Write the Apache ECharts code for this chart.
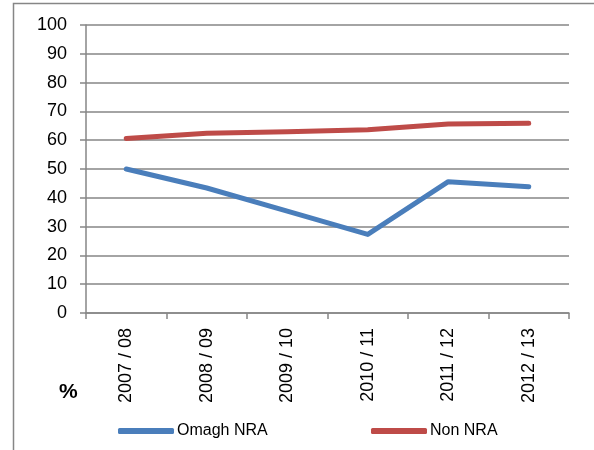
<!DOCTYPE html>
<html>
<head>
<meta charset="utf-8">
<script src="https://cdn.jsdelivr.net/npm/echarts@6/dist/echarts.min.js"></script>
<style>
html,body{margin:0;padding:0;background:#fff;}
#chart{width:594px;height:450px;}
</style>
</head>
<body>
<div id="chart"></div>
<script>
// years on the x axis
var years = ['2007 / 08', '2008 / 09', '2009 / 10', '2010 / 11', '2011 / 12', '2012 / 13'];
var omaghNRA = [50.0, 43.4, 35.4, 27.3, 45.6, 43.8];
var nonNRA = [60.6, 62.4, 62.9, 63.6, 65.6, 65.9];
var yTicks = [0, 100, 10];

var grey = '#868686';
var font = 'Liberation Sans, Arial, sans-serif';

var myChart = echarts.init(document.getElementById('chart'));
myChart.setOption({
	animation: false,
	grid: { left: 86, right: 25, top: 25, bottom: 137 },
	graphic: [
		{ type: 'rect', shape: { x: 13.5, y: 3.5, width: 600, height: 460 },
		  style: { fill: 'none', stroke: grey, lineWidth: 1.5 } },
		{ type: 'text', left: 59, top: 382,
		  style: { text: '%', fontSize: 21, fontWeight: 'bold', fontFamily: font, fill: '#000' } }
	],
	legend: [
		{ left: 118, top: 423, padding: 0, itemWidth: 56, itemHeight: 6, icon: 'roundRect', itemGap: 4,
		  textStyle: { fontSize: 16, fontFamily: font, color: '#000', padding: [0, 0, 0, -2] },
		  data: ['Omagh NRA'] },
		{ left: 371, top: 423, padding: 0, itemWidth: 56, itemHeight: 6, icon: 'roundRect',
		  textStyle: { fontSize: 16, fontFamily: font, color: '#000', padding: [0, 0, 0, -2] },
		  data: ['Non NRA'] }
	],
	xAxis: {
		type: 'category',
		data: years,
		boundaryGap: true,
		axisLine: { lineStyle: { color: grey, width: 1.5 } },
		axisTick: { show: true, length: 6, lineStyle: { color: grey, width: 1.5 } },
		axisLabel: { rotate: 90, fontSize: 18, fontFamily: font, color: '#000', margin: 15 }
	},
	yAxis: {
		type: 'value',
		min: yTicks[0], max: yTicks[1], interval: yTicks[2],
		axisLine: { show: true, lineStyle: { color: grey, width: 1.5 } },
		axisTick: { show: true, length: 6, lineStyle: { color: grey, width: 1.5 } },
		splitLine: { lineStyle: { color: grey, width: 1.5 } },
		axisLabel: { fontSize: 18, fontFamily: font, color: '#000', margin: 19 }
	},
	series: [
		{ name: 'Omagh NRA', type: 'line', data: omaghNRA, showSymbol: false,
		  lineStyle: { color: '#4a7ebb', width: 5, cap: 'round', join: 'round' },
		  itemStyle: { color: '#4a7ebb' } },
		{ name: 'Non NRA', type: 'line', data: nonNRA, showSymbol: false,
		  lineStyle: { color: '#be4b48', width: 5, cap: 'round', join: 'round' },
		  itemStyle: { color: '#be4b48' } }
	]
});
</script>
</body>
</html>
